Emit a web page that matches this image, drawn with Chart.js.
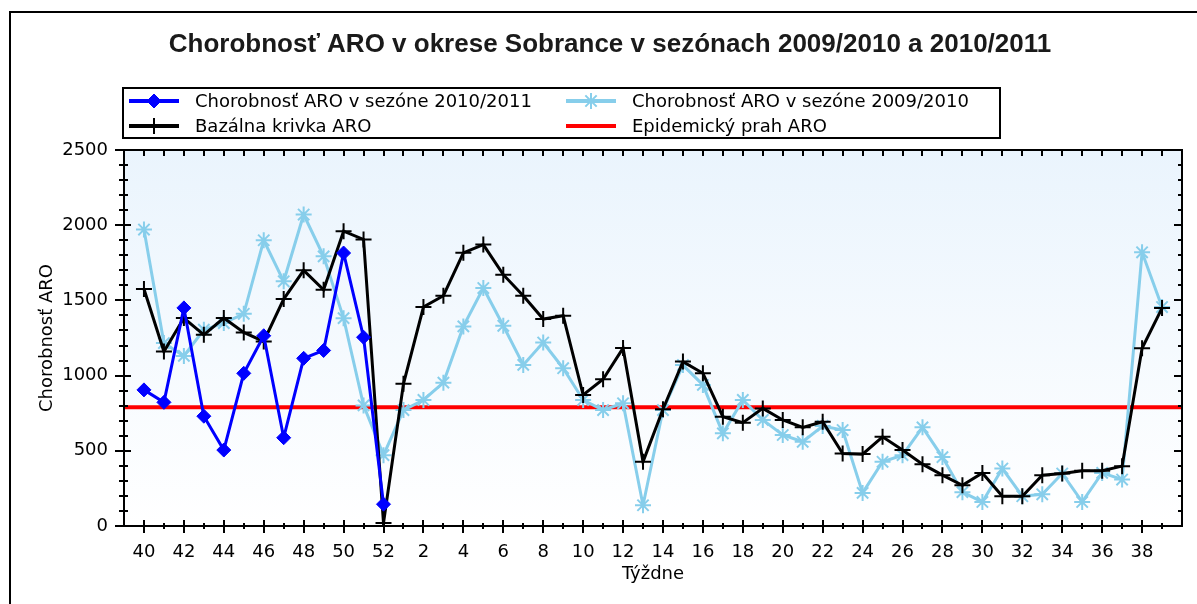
<!DOCTYPE html>
<html>
<head>
<meta charset="utf-8">
<title>Chorobnosť ARO - Sobrance</title>
<script src="https://cdn.jsdelivr.net/npm/chart.js@4/dist/chart.umd.min.js"></script>
<style>
  html, body { margin: 0; padding: 0; background: #fff; }
  #wrap { position: relative; width: 1197px; height: 604px; overflow: hidden; }
  #frame { position: absolute; left: 9px; top: 11px; right: -10px; bottom: -10px;
           border-left: 2px solid #000; border-top: 2px solid #000; }
  #chart { position: absolute; left: 0; top: 0; }
</style>
</head>
<body>
<div id="wrap">
  <div id="frame"></div>
  <canvas id="chart" width="1197" height="604"></canvas>
</div>
<script>
const TITLE = "Chorobnosť ARO v okrese Sobrance v sezónach 2009/2010 a 2010/2011";

// calendar weeks, season runs from week 40 to week 39
const WEEKS = [40, 41, 42, 43, 44, 45, 46, 47, 48, 49, 50, 51, 52,
  1, 2, 3, 4, 5, 6, 7, 8, 9, 10, 11, 12, 13, 14, 15, 16, 17, 18, 19, 20,
  21, 22, 23, 24, 25, 26, 27, 28, 29, 30, 31, 32, 33, 34, 35, 36, 37, 38, 39];

// season 2010/2011 (only up to week 52 so far)
const SEASON_2010_2011 = [905, 822, 1450, 730, 505, 1015, 1265, 587, 1115, 1167, 1815, 1255, 145];

const SEASON_2009_2010 = [1971, 1216, 1131, 1305, 1349, 1411, 1900, 1627, 2071, 1793, 1382, 802, 471,
  771, 838, 953, 1327, 1582, 1331, 1071, 1220, 1049, 838, 771, 816, 138, 771,
  1070, 938, 616, 838, 705, 605, 560, 665, 638, 220, 427, 471, 656, 458,
  225, 160, 382, 198, 211, 349, 160, 353, 309, 1820, 1456];

const BASAL = [1576, 1160, 1383, 1271, 1383, 1287, 1227, 1509, 1700, 1571, 1960, 1905, 20,
  945, 1456, 1531, 1816, 1871, 1671, 1531, 1376, 1398, 871, 976, 1183, 427, 776,
  1093, 1016, 727, 687, 782, 705, 656, 693, 482, 478, 593, 505, 411, 338,
  271, 353, 198, 198, 338, 349, 367, 367, 398, 1182, 1449];

const THRESHOLD = 790;
const THRESHOLD_LABEL = "Epidemický prah ARO";

const FONT = '"DejaVu Sans", sans-serif';

const toPoints = (arr) => arr.map((v, i) => ({ x: i, y: v }));

function line(ctx, x1, y1, x2, y2) {
  ctx.beginPath();
  ctx.moveTo(x1, y1);
  ctx.lineTo(x2, y2);
  ctx.stroke();
}

// plot background, threshold line, box with inner/outer tick marks
const plotBox = {
  id: 'plotBox',
  beforeDatasetsDraw(chart) {
    const { ctx, chartArea: a, scales: { y } } = chart;
    ctx.save();
    const g = ctx.createLinearGradient(0, a.top, 0, a.bottom);
    g.addColorStop(0, '#eaf4fd');
    g.addColorStop(1, '#ffffff');
    ctx.fillStyle = g;
    ctx.fillRect(a.left, a.top, a.width, a.height);

    const ty = y.getPixelForValue(THRESHOLD);
    ctx.strokeStyle = '#ff0000';
    ctx.lineWidth = 4;
    line(ctx, a.left, ty, a.right, ty);
    ctx.restore();
  },
  afterDatasetsDraw(chart) {
    const { ctx, chartArea: a, scales: { x, y } } = chart;
    ctx.save();
    ctx.strokeStyle = '#000';
    ctx.lineWidth = 2;
    ctx.strokeRect(a.left, a.top, a.width, a.height);

    for (let v = 0; v <= y.max; v += 100) {
      const py = Math.round(y.getPixelForValue(v));
      const major = v % 500 === 0;
      line(ctx, a.left - (major ? 9 : 5), py, a.left + (major ? 7 : 4), py);
      line(ctx, a.right - (major ? 8 : 4), py, a.right, py);
    }
    WEEKS.forEach((w, i) => {
      const px = Math.round(x.getPixelForValue(i));
      const major = w % 2 === 0;
      line(ctx, px, a.bottom - (major ? 6 : 3), px, a.bottom + (major ? 7 : 3));
      line(ctx, px, a.top, px, a.top + 6);
    });
    ctx.restore();
  }
};

// title + boxed two-column legend
const header = {
  id: 'header',
  afterDraw(chart) {
    const ctx = chart.ctx;
    const ds = chart.data.datasets;
    ctx.save();
    ctx.fillStyle = '#1a1a1a';
    ctx.font = 'bold 26px "Liberation Sans", Arial, sans-serif';
    ctx.textAlign = 'center';
    ctx.textBaseline = 'middle';
    ctx.fillText(TITLE, 610, 45);

    ctx.strokeStyle = '#000';
    ctx.lineWidth = 2;
    ctx.strokeRect(123, 88, 877, 50);

    const items = [
      { d: ds[0], x: 129, y: 101 },
      { d: ds[2], x: 566, y: 101 },
      { d: ds[1], x: 129, y: 126 },
      { d: { label: THRESHOLD_LABEL, borderColor: '#ff0000' }, x: 566, y: 126 }
    ];
    ctx.font = '18px ' + FONT;
    ctx.textAlign = 'left';
    items.forEach(({ d, x, y }) => {
      ctx.strokeStyle = d.borderColor;
      ctx.fillStyle = d.borderColor;
      ctx.lineWidth = 4;
      line(ctx, x, y, x + 50, y);
      if (d.pointStyle) {
        ctx.lineWidth = d.pointBorderWidth;
        Chart.helpers.drawPoint(ctx, {
          pointStyle: d.pointStyle, radius: d.pointRadius, rotation: 0,
          borderWidth: d.pointBorderWidth
        }, x + 25, y);
      }
      ctx.fillStyle = '#000';
      ctx.fillText(d.label, x + 66, y + 1);
    });
    ctx.restore();
  }
};

new Chart(document.getElementById('chart'), {
  type: 'line',
  data: {
    datasets: [
      {
        label: 'Chorobnosť ARO v sezóne 2010/2011',
        data: toPoints(SEASON_2010_2011),
        borderColor: '#0000ff',
        backgroundColor: '#0000ff',
        borderWidth: 3,
        pointStyle: 'rectRot',
        pointRadius: 7,
        pointBorderWidth: 1
      },
      {
        label: 'Bazálna krivka ARO',
        data: toPoints(BASAL),
        borderColor: '#000000',
        backgroundColor: '#000000',
        borderWidth: 3,
        pointStyle: 'cross',
        pointRadius: 8,
        pointBorderWidth: 2
      },
      {
        label: 'Chorobnosť ARO v sezóne 2009/2010',
        data: toPoints(SEASON_2009_2010),
        borderColor: '#87ceeb',
        backgroundColor: '#87ceeb',
        borderWidth: 3,
        pointStyle: 'star',
        pointRadius: 8,
        pointBorderWidth: 2
      }
    ]
  },
  options: {
    responsive: false,
    animation: false,
    events: [],
    layout: { padding: { top: 150, right: 15, left: 0, bottom: 0 } },
    elements: { line: { tension: 0 } },
    plugins: { legend: { display: false }, tooltip: { enabled: false } },
    scales: {
      x: {
        type: 'linear',
        min: -1,
        max: 52,
        grid: { display: false },
        border: { display: false },
        afterFit: (s) => { s.height = 78; },
        ticks: {
          stepSize: 1,
          autoSkip: false,
          maxRotation: 0,
          padding: 8,
          color: '#000',
          font: { family: FONT, size: 18 },
          callback: (v) => {
            const w = WEEKS[v];
            return w !== undefined && w % 2 === 0 ? String(w) : '';
          }
        },
        title: {
          display: true,
          text: 'Týždne',
          color: '#000',
          font: { family: FONT, size: 18 },
          padding: { top: 0, bottom: 19 }
        }
      },
      y: {
        min: 0,
        max: 2500,
        grid: { display: false },
        border: { display: false },
        afterFit: (s) => { s.width = 124; },
        ticks: {
          stepSize: 500,
          padding: 8,
          color: '#000',
          font: { family: FONT, size: 18 },
          callback: (v) => String(v)
        },
        title: {
          display: true,
          text: 'Chorobnosť ARO',
          color: '#000',
          font: { family: FONT, size: 18 },
          padding: { top: 37, bottom: 0 }
        }
      }
    }
  },
  plugins: [plotBox, header]
});
</script>
</body>
</html>
